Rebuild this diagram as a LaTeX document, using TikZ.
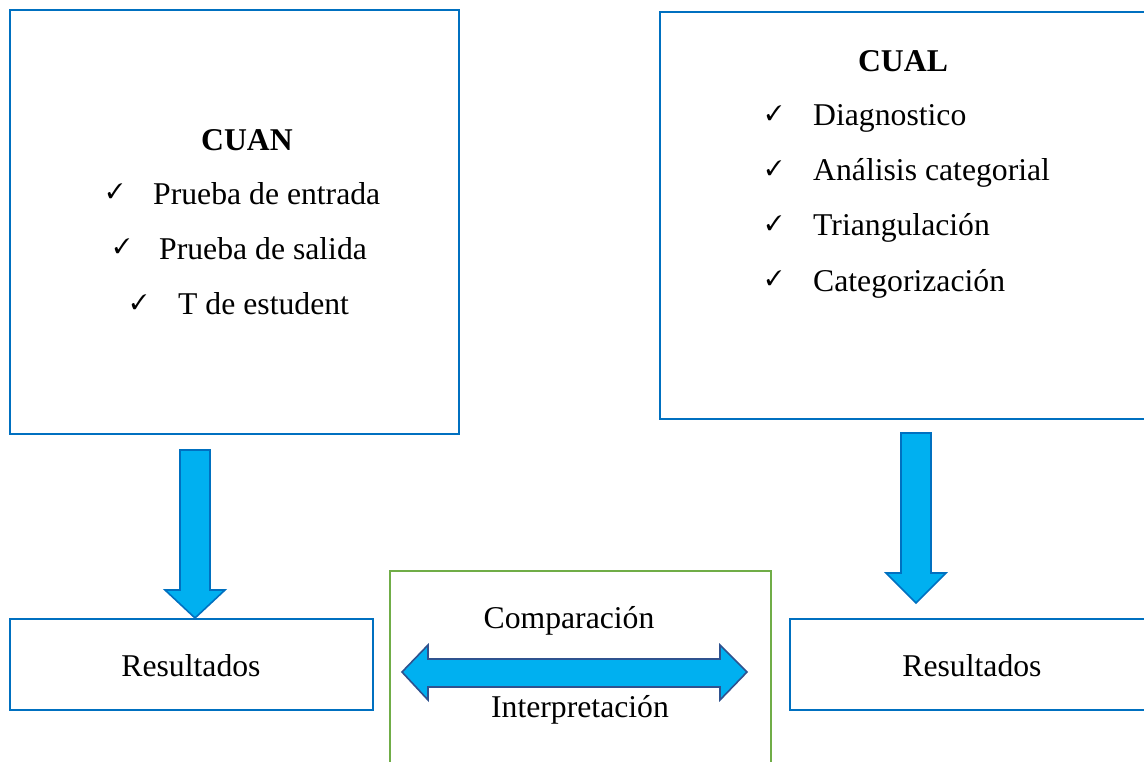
\documentclass[tikz,border=0pt]{standalone}
\usepackage{fontspec}
\setmainfont{Liberation Serif}
\usepackage{pifont}
\definecolor{boxblue}{HTML}{0070C0}
\definecolor{arrowfill}{HTML}{00B0F0}
\definecolor{navy}{HTML}{2F528F}
\definecolor{boxgreen}{HTML}{70AD47}
\begin{document}
\begin{tikzpicture}[x=1pt,y=-1pt,
  bluebox/.style={draw=boxblue,line width=2pt},
  greenbox/.style={draw=boxgreen,line width=2pt},
  txt/.style={inner sep=0pt,font=\fontsize{31.7}{36}\selectfont},
  btxt/.style={inner sep=0pt,font=\fontsize{31.7}{36}\selectfont\bfseries},
  chk/.style={inner sep=0pt,anchor=base west,font=\fontsize{21}{24}\selectfont},
  downarrow/.style={fill=arrowfill,draw=boxblue,line width=1.6pt,line join=miter},
  duoarrow/.style={fill=arrowfill,draw=navy,line width=1.6pt,line join=miter}]
\useasboundingbox (0,0) rectangle (1144,762);
\clip (0,0) rectangle (1144,762);
\fill[white] (0,0) rectangle (1144,762);
% boxes
\draw[bluebox] (10,10) rectangle (459,434);
\draw[bluebox] (660,12) rectangle (1160,419);
\draw[bluebox] (10,619) rectangle (373,710);
\draw[bluebox] (790,619) rectangle (1160,710);
\draw[greenbox] (390,571) rectangle (771,780);
% CUAN
\node[btxt,anchor=base] (cuan) at (247,151) {CUAN};
\node[chk] (c1) at (107,199) {\ding{51}};
\node[txt,anchor=base west] (t1) at (153,205) {Prueba de entrada};
\node[chk] (c2) at (114,254) {\ding{51}};
\node[txt,anchor=base west] (t2) at (159,260) {Prueba de salida};
\node[chk] (c3) at (131,309) {\ding{51}};
\node[txt,anchor=base west] (t3) at (178,315) {T de estudent};
% CUAL
\node[btxt,anchor=base] (cual) at (903,72) {CUAL};
\node[chk] (d1) at (766,121) {\ding{51}};
\node[txt,anchor=base west] (u1) at (813,126) {Diagnostico};
\node[chk] (d2) at (766,176) {\ding{51}};
\node[txt,anchor=base west] (u2) at (813,181) {Análisis categorial};
\node[chk] (d3) at (766,231) {\ding{51}};
\node[txt,anchor=base west] (u3) at (813,236) {Triangulación};
\node[chk] (d4) at (766,286) {\ding{51}};
\node[txt,anchor=base west] (u4) at (813,291) {Categorización};
% results
\node[txt,anchor=base] (res1) at (191,676) {Resultados};
\node[txt,anchor=base] (res2) at (972,676) {Resultados};
\node[txt,anchor=base] (comp) at (569,628) {Comparación};
\node[txt,anchor=base] (interp) at (580,717) {Interpretación};
% arrows
\draw[downarrow] (180,450) -- (210,450) -- (210,590) -- (225,590) -- (195,618) -- (165,590) -- (180,590) -- cycle;
\draw[downarrow] (901,433) -- (931,433) -- (931,573) -- (946,573) -- (916,603) -- (886,573) -- (901,573) -- cycle;
\draw[duoarrow] (402,672) -- (428,645) -- (428,659) -- (720,659) -- (720,645) -- (747,672) -- (720,700) -- (720,687) -- (428,687) -- (428,700) -- cycle;
\end{tikzpicture}
\end{document}
